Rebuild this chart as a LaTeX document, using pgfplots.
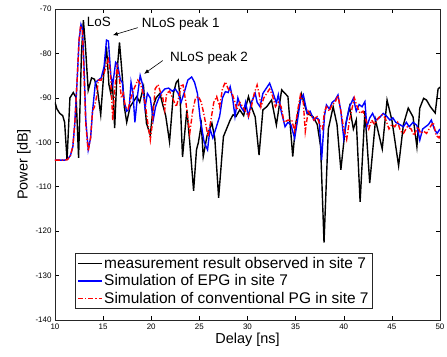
\documentclass[border=0pt]{standalone}
\usepackage{pgfplots}
\pgfplotsset{compat=1.18}
\usepackage{fontspec}
\setmainfont{Liberation Sans}
\usetikzlibrary{arrows.meta}
\begin{document}
\begin{tikzpicture}
\useasboundingbox (-55bp,-37bp) rectangle (392bp,320bp);
\begin{axis}[
  scale only axis, width=385bp, height=311bp,
  xmin=10, xmax=50, ymin=-140, ymax=-70,
  xtick={10,15,...,50}, ytick={-140,-130,...,-70},
  tick align=inside, major tick length=4bp,
  tick style={black, line width=0.5pt},
  axis line style={line width=0.6pt, black!85},
  tick label style={font=\fontsize{8}{9}\selectfont},
  /pgf/number format/assume math mode=true,
  xlabel={Delay [ns]}, ylabel={Power [dB]},
  label style={font=\fontsize{14.5}{16}\selectfont},
  xlabel style={yshift=3bp},
  ylabel style={yshift=-2bp},
  legend cell align=left,
  legend style={at={(axis cs:12.1,-137.5)}, anchor=south west,
    font=\fontsize{15.5}{16}\selectfont, draw=black!85, line width=0.6pt,
    inner sep=2bp, row sep=2bp, nodes={inner sep=1.5bp}},
  legend image post style={xscale=1.4},
  clip=true,
]
\addplot[black, line width=1.4pt] coordinates {
(10.0,-91) (10.2,-92.5) (10.5,-93.5) (10.8,-94) (11.0,-95.5) (11.25,-104)
(11.55,-90) (11.9,-88.8) (12.2,-90) (12.45,-103.5) (12.75,-80) (12.95,-72.5)
(13.15,-78) (13.45,-88.3) (13.8,-85.5) (14.1,-85.8) (14.4,-88) (14.75,-93.8)
(15.05,-85) (15.35,-78.5) (15.6,-87) (15.8,-89) (15.95,-86) (16.2,-96.8)
(16.45,-84) (16.7,-77.5) (16.95,-84) (17.2,-92) (17.45,-95.5) (17.8,-92)
(18.1,-91) (18.5,-89.7) (18.8,-91) (19.2,-87.5) (19.5,-95.7) (19.9,-98.4)
(20.2,-92) (20.5,-90) (20.9,-89) (21.25,-92) (21.5,-94) (21.9,-99.9)
(22.3,-89) (22.6,-86.5) (22.8,-86) (23.0,-90) (23.25,-103.3) (23.7,-92.7)
(24.0,-100) (24.4,-110.9) (24.7,-101.7) (24.9,-100) (25.2,-96) (25.4,-103.2)
(25.8,-98.5) (26.3,-95.7) (26.6,-99) (27.0,-112.5) (27.5,-98.7) (28.2,-95)
(28.5,-93.8) (28.8,-94.2) (29.2,-92.7) (29.6,-94) (30.1,-89.7) (30.4,-92)
(30.8,-94.3) (31.2,-102.9) (31.6,-92.7) (32.0,-92) (32.5,-90.5) (33.0,-96.1)
(33.55,-88.2) (34.2,-89.7) (34.7,-103.2) (35.0,-96) (35.6,-89.1) (36.2,-93.5)
(36.8,-94.2) (37.25,-96) (37.6,-101) (37.95,-122.6) (38.4,-97) (38.9,-92)
(39.3,-96) (39.7,-106.2) (40.2,-96) (40.6,-92) (41.0,-97) (41.3,-95)
(41.7,-113.4) (42.2,-93) (42.7,-109.2) (43.3,-95) (44.0,-101.5) (44.5,-90.5)
(45.0,-95) (45.7,-105.3) (46.2,-96) (46.7,-92.3) (47.2,-94.3) (47.6,-101)
(47.9,-92.3) (48.3,-90.1) (48.6,-90.5) (49.0,-92) (49.5,-93.4) (49.8,-88)
(50.0,-87.6)
};
\addlegendentry{measurement result observed in site 7}
\addplot[blue, line width=1.4pt] coordinates {
(10,-104) (11.0,-104) (11.3,-103.8) (11.6,-103) (11.85,-101) (12.05,-96)
(12.3,-86) (12.5,-77) (12.7,-73.5) (12.85,-74.5) (13.0,-82) (13.2,-95)
(13.45,-101.7) (13.7,-99) (13.9,-93) (14.2,-86.5) (14.5,-86) (14.8,-85.5)
(15.1,-83) (15.35,-77) (15.55,-77.2) (15.8,-85) (16.0,-87) (16.3,-82)
(16.5,-82.5) (16.8,-86) (17.0,-86.5) (17.2,-91) (17.45,-93) (17.7,-92.5)
(17.9,-86.5) (18.1,-89) (18.3,-95.5) (18.6,-89) (18.85,-85) (19.1,-87)
(19.35,-92.3) (19.6,-89) (19.9,-90) (20.2,-95) (20.45,-92) (20.7,-90.5)
(21.0,-89) (21.4,-88) (21.8,-87.8) (22.2,-88.5) (22.5,-88) (22.8,-89)
(23.1,-91) (23.4,-89) (23.8,-86) (24.2,-85.3) (24.5,-86.5) (24.8,-89)
(25.1,-95) (25.5,-100) (25.85,-101.7) (26.1,-97) (26.4,-99) (26.7,-97)
(27.1,-94.2) (27.4,-90) (27.7,-88.6) (28.0,-88.8) (28.2,-87.5) (28.45,-90)
(28.7,-94.2) (29.0,-90) (29.3,-92) (29.6,-93) (29.8,-91) (30.1,-94.2)
(30.4,-91) (30.8,-89) (31.0,-91) (31.3,-92) (31.6,-89) (31.9,-88)
(32.3,-86.7) (32.6,-88.5) (33.0,-91.2) (33.2,-89.3) (33.5,-93) (33.9,-96.5)
(34.2,-95.5) (34.5,-96) (34.9,-99.1) (35.2,-95) (35.5,-90.5) (35.8,-89.3)
(36.2,-93.5) (36.5,-93) (36.9,-95) (37.2,-94.5) (37.45,-95) (37.7,-104)
(38.0,-94) (38.2,-91.6) (38.5,-92.5) (38.8,-91) (39.1,-90.5) (39.4,-89.35)
(39.7,-93) (40.0,-99.1) (40.3,-95) (40.6,-92) (41.0,-90.1) (41.3,-93)
(41.6,-91.5) (41.9,-92) (42.2,-90.85) (42.4,-96.5) (42.7,-94.5) (43.0,-93.5)
(43.3,-95) (43.7,-94.5) (44.1,-93.5) (44.4,-94) (44.8,-95) (45.1,-94.5)
(45.4,-95.5) (45.8,-96) (46.2,-96.5) (46.5,-95.5) (46.8,-96.5) (47.2,-95.5)
(47.6,-96.2) (47.9,-99.5) (48.2,-97) (48.5,-96.5) (48.8,-96) (49.1,-95)
(49.4,-97) (49.7,-98) (50.0,-97)
};
\addlegendentry{Simulation of EPG in site 7}
\addplot[red, line width=1.4pt, dash pattern=on 5pt off 2pt on 1.2pt off 2pt] coordinates {
(10,-104) (11.0,-104) (11.3,-103.9) (11.6,-103) (11.85,-101) (12.05,-96)
(12.3,-86) (12.5,-77) (12.65,-73.8) (12.85,-75) (13.0,-84) (13.2,-96)
(13.45,-102) (13.7,-99) (13.9,-93) (14.1,-92) (14.3,-90) (14.5,-86)
(14.8,-86) (15.1,-84.5) (15.35,-82.5) (15.55,-81.3) (15.75,-84) (16.0,-95)
(16.2,-88) (16.45,-83) (16.7,-86) (16.9,-90) (17.1,-89) (17.3,-92)
(17.6,-92.5) (17.9,-90) (18.2,-88) (18.6,-86) (18.9,-87) (19.1,-88.5)
(19.35,-91) (19.6,-95) (19.9,-99.5) (20.1,-96) (20.4,-88) (20.7,-87)
(21.0,-89) (21.2,-90) (21.4,-92.7) (21.6,-89) (21.9,-88.5) (22.2,-90)
(22.6,-92) (22.9,-89.5) (23.1,-87.3) (23.3,-87.1) (23.6,-91) (24.0,-98)
(24.3,-93) (24.6,-90) (24.9,-89.7) (25.2,-91) (25.5,-94) (25.9,-98.7)
(26.2,-95) (26.5,-91) (26.8,-89.7) (27.1,-92) (27.4,-88) (27.7,-86.4)
(28.0,-88) (28.2,-88.5) (28.4,-89) (28.7,-91) (28.9,-92.7) (29.2,-91)
(29.5,-92) (29.8,-93) (30.1,-94.2) (30.4,-92) (30.7,-89) (31.0,-87.1)
(31.2,-89) (31.4,-92) (31.7,-90) (32.0,-89) (32.3,-88) (32.6,-89.5)
(32.9,-92) (33.2,-91) (33.5,-92) (33.8,-95.5) (34.2,-95) (34.6,-95)
(34.9,-97.5) (35.2,-93) (35.5,-89.35) (35.8,-91) (36.0,-97.6) (36.3,-93)
(36.6,-94) (36.9,-95) (37.2,-94) (37.5,-96) (37.8,-97) (38.0,-93)
(38.2,-92) (38.5,-93) (38.8,-91.5) (39.1,-91) (39.4,-89.5) (39.7,-93)
(40.0,-97) (40.3,-99.4) (40.6,-95) (40.9,-92) (41.1,-90) (41.4,-92)
(41.7,-93.5) (42.0,-93) (42.3,-95) (42.6,-97) (42.9,-95) (43.2,-96)
(43.6,-94.5) (44.0,-93.8) (44.3,-94.5) (44.7,-97) (45.0,-96) (45.3,-96.5)
(45.6,-95.5) (45.9,-97.5) (46.2,-98) (46.6,-96.5) (47.0,-97) (47.3,-98.5)
(47.7,-96.5) (48.0,-98) (48.3,-97.5) (48.6,-98) (49.0,-96.5) (49.3,-95.5)
(49.6,-98.5) (49.9,-99) (50.0,-98)
};
\addlegendentry{Simulation of conventional PG in site 7}
\node[anchor=west, inner sep=0pt, font=\fontsize{13.5}{14}\selectfont] at (axis cs:13.3,-72.9) {LoS};
\node[anchor=west, inner sep=0pt, font=\fontsize{13.5}{14}\selectfont] at (axis cs:19.0,-73.4) {NLoS peak 1};
\node[anchor=west, inner sep=0pt, font=\fontsize{13.5}{14}\selectfont] at (axis cs:21.95,-81.1) {NLoS peak 2};
\draw[-{Latex[length=5bp,width=4bp]}, line width=0.6pt] (axis cs:18.6,-74.2) -- (axis cs:16.0,-75.9);
\draw[-{Latex[length=5bp,width=4bp]}, line width=0.6pt] (axis cs:21.2,-81.6) -- (axis cs:19.25,-84.6);
\end{axis}
\end{tikzpicture}
\end{document}
